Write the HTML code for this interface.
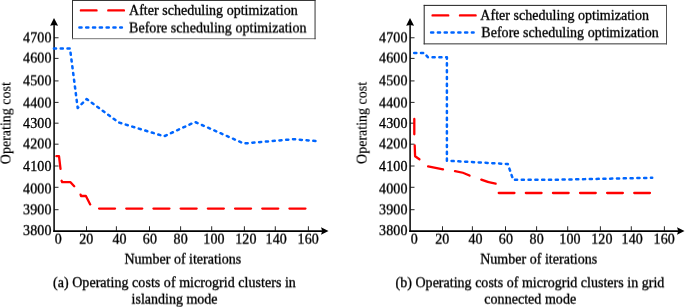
<!DOCTYPE html>
<html>
<head>
<meta charset="utf-8">
<title>Operating costs of microgrid clusters</title>
<style>
html,body{margin:0;padding:0;background:#fff;}
body{width:685px;height:307px;overflow:hidden;font-family:"Liberation Serif",serif;}
svg{display:block;}
svg text{font-family:"Liberation Serif",serif;font-size:14px;fill:#000;stroke:#000;stroke-width:0.32px;}
svg text.tk{letter-spacing:0.15px;}
svg text.vt{stroke-width:0.18px;}
</style>
</head>
<body>
<svg width="685" height="307" viewBox="0 0 685 307">
<defs>
<filter id="soft" x="0" y="0" width="685" height="307" filterUnits="userSpaceOnUse"><feGaussianBlur stdDeviation="0.3"/></filter>
<filter id="h5" x="0" y="0" width="685" height="307" filterUnits="userSpaceOnUse"><feConvolveMatrix order="2 1" kernelMatrix="0.50 0.50" targetX="1" edgeMode="none" preserveAlpha="false"/></filter>
<filter id="h6" x="0" y="0" width="685" height="307" filterUnits="userSpaceOnUse"><feConvolveMatrix order="2 1" kernelMatrix="0.40 0.60" targetX="1" edgeMode="none" preserveAlpha="false"/></filter>
<filter id="v0" x="0" y="0" width="685" height="307" filterUnits="userSpaceOnUse"><feGaussianBlur stdDeviation="0.3"/></filter>
<filter id="v2" x="0" y="0" width="685" height="307" filterUnits="userSpaceOnUse"><feConvolveMatrix order="1 2" kernelMatrix="0.80 0.20" targetY="1" edgeMode="none" preserveAlpha="false"/></filter>
<filter id="v3" x="0" y="0" width="685" height="307" filterUnits="userSpaceOnUse"><feConvolveMatrix order="1 2" kernelMatrix="0.70 0.30" targetY="1" edgeMode="none" preserveAlpha="false"/></filter>
<filter id="v4" x="0" y="0" width="685" height="307" filterUnits="userSpaceOnUse"><feConvolveMatrix order="1 2" kernelMatrix="0.60 0.40" targetY="1" edgeMode="none" preserveAlpha="false"/></filter>
<filter id="v5" x="0" y="0" width="685" height="307" filterUnits="userSpaceOnUse"><feConvolveMatrix order="1 2" kernelMatrix="0.50 0.50" targetY="1" edgeMode="none" preserveAlpha="false"/></filter>
<filter id="v6" x="0" y="0" width="685" height="307" filterUnits="userSpaceOnUse"><feConvolveMatrix order="1 2" kernelMatrix="0.40 0.60" targetY="1" edgeMode="none" preserveAlpha="false"/></filter>
<filter id="v7" x="0" y="0" width="685" height="307" filterUnits="userSpaceOnUse"><feConvolveMatrix order="1 2" kernelMatrix="0.30 0.70" targetY="1" edgeMode="none" preserveAlpha="false"/></filter>
<filter id="v9" x="0" y="0" width="685" height="307" filterUnits="userSpaceOnUse"><feConvolveMatrix order="1 2" kernelMatrix="0.10 0.90" targetY="1" edgeMode="none" preserveAlpha="false"/></filter>
</defs>
<rect x="0" y="0" width="685" height="307" fill="#fff"/>
<g filter="url(#soft)">
<line x1="54.10" y1="24" x2="54.10" y2="231.95" stroke="#0c0c0c" stroke-width="1.6"/>
<line x1="53.30" y1="231.05" x2="322.50" y2="231.05" stroke="#000" stroke-width="1.8"/>
<path d="M54.00,18.1 L58.05,25.7 L54.10,25.0 L50.15,25.7 Z" fill="#000"/>
<path d="M328.50,231.05 L321.00,227.25 L322.20,231.05 L321.00,234.85 Z" fill="#000"/>
<line x1="54.10" y1="37.75" x2="58.50" y2="37.75" stroke="#111" stroke-width="0.9"/>
<line x1="54.10" y1="58.40" x2="58.50" y2="58.40" stroke="#111" stroke-width="0.9"/>
<line x1="54.10" y1="80.90" x2="58.50" y2="80.90" stroke="#111" stroke-width="0.9"/>
<line x1="54.10" y1="102.40" x2="58.50" y2="102.40" stroke="#111" stroke-width="0.9"/>
<line x1="54.10" y1="123.20" x2="58.50" y2="123.20" stroke="#111" stroke-width="0.9"/>
<line x1="54.10" y1="144.20" x2="58.50" y2="144.20" stroke="#111" stroke-width="0.9"/>
<line x1="54.10" y1="166.00" x2="58.50" y2="166.00" stroke="#111" stroke-width="0.9"/>
<line x1="54.10" y1="187.30" x2="58.50" y2="187.30" stroke="#111" stroke-width="0.9"/>
<line x1="54.10" y1="209.70" x2="58.50" y2="209.70" stroke="#111" stroke-width="0.9"/>
<line x1="86.50" y1="231.05" x2="86.50" y2="226.25" stroke="#111" stroke-width="0.9"/>
<line x1="116.40" y1="231.05" x2="116.40" y2="226.25" stroke="#111" stroke-width="0.9"/>
<line x1="149.50" y1="231.05" x2="149.50" y2="226.25" stroke="#111" stroke-width="0.9"/>
<line x1="180.60" y1="231.05" x2="180.60" y2="226.25" stroke="#111" stroke-width="0.9"/>
<line x1="211.70" y1="231.05" x2="211.70" y2="226.25" stroke="#111" stroke-width="0.9"/>
<line x1="244.40" y1="231.05" x2="244.40" y2="226.25" stroke="#111" stroke-width="0.9"/>
<line x1="275.30" y1="231.05" x2="275.30" y2="226.25" stroke="#111" stroke-width="0.9"/>
<line x1="308.40" y1="231.05" x2="308.40" y2="226.25" stroke="#111" stroke-width="0.9"/>
<line x1="410.10" y1="24" x2="410.10" y2="231.95" stroke="#0c0c0c" stroke-width="1.6"/>
<line x1="409.30" y1="231.05" x2="678.50" y2="231.05" stroke="#000" stroke-width="1.8"/>
<path d="M410.00,18.1 L414.05,25.7 L410.10,25.0 L406.15,25.7 Z" fill="#000"/>
<path d="M684.50,231.05 L677.00,227.25 L678.20,231.05 L677.00,234.85 Z" fill="#000"/>
<line x1="410.10" y1="37.75" x2="414.50" y2="37.75" stroke="#111" stroke-width="0.9"/>
<line x1="410.10" y1="58.40" x2="414.50" y2="58.40" stroke="#111" stroke-width="0.9"/>
<line x1="410.10" y1="80.90" x2="414.50" y2="80.90" stroke="#111" stroke-width="0.9"/>
<line x1="410.10" y1="102.40" x2="414.50" y2="102.40" stroke="#111" stroke-width="0.9"/>
<line x1="410.10" y1="123.20" x2="414.50" y2="123.20" stroke="#111" stroke-width="0.9"/>
<line x1="410.10" y1="144.20" x2="414.50" y2="144.20" stroke="#111" stroke-width="0.9"/>
<line x1="410.10" y1="166.00" x2="414.50" y2="166.00" stroke="#111" stroke-width="0.9"/>
<line x1="410.10" y1="187.30" x2="414.50" y2="187.30" stroke="#111" stroke-width="0.9"/>
<line x1="410.10" y1="209.70" x2="414.50" y2="209.70" stroke="#111" stroke-width="0.9"/>
<line x1="442.50" y1="231.05" x2="442.50" y2="226.25" stroke="#111" stroke-width="0.9"/>
<line x1="472.40" y1="231.05" x2="472.40" y2="226.25" stroke="#111" stroke-width="0.9"/>
<line x1="505.50" y1="231.05" x2="505.50" y2="226.25" stroke="#111" stroke-width="0.9"/>
<line x1="536.60" y1="231.05" x2="536.60" y2="226.25" stroke="#111" stroke-width="0.9"/>
<line x1="567.70" y1="231.05" x2="567.70" y2="226.25" stroke="#111" stroke-width="0.9"/>
<line x1="600.40" y1="231.05" x2="600.40" y2="226.25" stroke="#111" stroke-width="0.9"/>
<line x1="631.30" y1="231.05" x2="631.30" y2="226.25" stroke="#111" stroke-width="0.9"/>
<line x1="664.40" y1="231.05" x2="664.40" y2="226.25" stroke="#111" stroke-width="0.9"/>
<rect x="72.50" y="0.40" width="242.55" height="38.30" fill="#fff" stroke="none"/>
<line x1="72.00" y1="0.40" x2="315.55" y2="0.40" stroke="#222" stroke-width="1"/>
<line x1="72.50" y1="-0.10" x2="72.50" y2="39.20" stroke="#333" stroke-width="1"/>
<line x1="72.00" y1="38.70" x2="315.55" y2="38.70" stroke="#777" stroke-width="1"/>
<line x1="315.05" y1="-0.10" x2="315.05" y2="39.20" stroke="#333" stroke-width="1"/>
<path d="M80.90,10.40 H96.50 M108.30,10.40 H123.90" stroke="#ff0000" stroke-width="2.4" stroke-linecap="round" fill="none"/>
<path d="M79.40,27.50 H121.90" stroke="#0566ff" stroke-width="2.5" stroke-linecap="round" stroke-dasharray="2.15 4.65" fill="none"/>
<rect x="424.20" y="5.40" width="242.30" height="38.46" fill="#fff" stroke="none"/>
<line x1="423.70" y1="5.40" x2="667.00" y2="5.40" stroke="#222" stroke-width="1"/>
<line x1="424.20" y1="4.90" x2="424.20" y2="44.36" stroke="#222" stroke-width="1"/>
<line x1="423.70" y1="43.86" x2="667.00" y2="43.86" stroke="#333" stroke-width="1"/>
<line x1="666.50" y1="4.90" x2="666.50" y2="44.36" stroke="#555" stroke-width="1"/>
<path d="M432.60,15.40 H448.20 M460.00,15.40 H475.60" stroke="#ff0000" stroke-width="2.4" stroke-linecap="round" fill="none"/>
<path d="M431.10,32.50 H473.60" stroke="#0566ff" stroke-width="2.5" stroke-linecap="round" stroke-dasharray="2.15 4.65" fill="none"/>
<path d="M53.9,48.4 L70.0,48.4 L77.7,108 L86.7,99 L118.5,122.4 L164.1,136.3 L195.1,122 L243.8,143.5 L293.7,139.2 L316.0,141.1" fill="none" stroke="#0566ff" stroke-width="2.5" stroke-linecap="round" stroke-linejoin="round" stroke-dasharray="2.15 4.65"/>
<path d="M56.4,156.2 L59.0,156.2 L60.5,168.8 M61.6,180.8 L62.2,182.2 L70.5,182.2 L74.2,186.2 M80.6,194.6 L81.0,196.0 L85.9,196.0 L90.2,204.4 M99.05,208.60 H115.05 M126.25,208.60 H142.25 M153.45,208.60 H169.45 M180.65,208.60 H196.65 M207.85,208.60 H223.85 M235.05,208.60 H251.05 M262.25,208.60 H278.25 M289.45,208.60 H305.45 " fill="none" stroke="#ff0000" stroke-width="2.3" stroke-linecap="round" stroke-linejoin="round"/>
<path d="M414.2,52.9 L424.2,52.9 L427.9,57.3 L446.9,57.3 L446.9,160.7 L507.8,164 L513.2,179.8 L556,179.7 L652.2,177.8" fill="none" stroke="#0566ff" stroke-width="2.5" stroke-linecap="round" stroke-linejoin="round" stroke-dasharray="2.15 4.65"/>
<path d="M414.3,119.0 L414.3,134.3 M414.7,145.5 L415.1,156.3 L419.4,159.3 M428.1,166.4 L443,169.3 M455.0,171.2 Q463.5,172.3 469.5,175.6 M481.3,179.6 Q488,182.4 495.6,183.7 M498.75,193.00 H514.45 M525.85,193.00 H541.55 M552.95,193.00 H568.65 M580.05,193.00 H595.75 M607.15,193.00 H622.85 M634.25,193.00 H649.95 " fill="none" stroke="#ff0000" stroke-width="2.3" stroke-linecap="round" stroke-linejoin="round"/>
</g>
<g filter="url(#h5)">
<text class="vt" transform="translate(10,164.15) rotate(-90)">Operating cost</text>
</g>
<g filter="url(#h6)">
<text class="vt" transform="translate(366,163.90) rotate(-90)">Operating cost</text>
</g>
<g filter="url(#v0)">
<text x="51.65" y="128" text-anchor="end" class="tk">4300</text>
<text x="51.65" y="171" text-anchor="end" class="tk">4100</text>
<text x="407.65" y="128" text-anchor="end" class="tk">4300</text>
<text x="407.65" y="171" text-anchor="end" class="tk">4100</text>
</g>
<g filter="url(#v2)">
<text x="51.65" y="235" text-anchor="end" class="tk">3800</text>
<text x="407.65" y="235" text-anchor="end" class="tk">3800</text>
<text x="481.30" y="37" style="letter-spacing:0.034px">Before scheduling optimization</text>
<text x="53.00" y="287" style="letter-spacing:0.042px">(a) Operating costs of microgrid clusters in</text>
</g>
<g filter="url(#v3)">
<text x="395.60" y="287" style="letter-spacing:0.017px">(b) Operating costs of microgrid clusters in grid</text>
</g>
<g filter="url(#v4)">
<text x="51.65" y="42" text-anchor="end" class="tk">4700</text>
<text x="51.65" y="85" text-anchor="end" class="tk">4500</text>
<text x="51.65" y="214" text-anchor="end" class="tk">3900</text>
<text x="407.65" y="42" text-anchor="end" class="tk">4700</text>
<text x="407.65" y="85" text-anchor="end" class="tk">4500</text>
<text x="407.65" y="214" text-anchor="end" class="tk">3900</text>
</g>
<g filter="url(#v5)">
<text x="51.65" y="148" text-anchor="end" class="tk">4200</text>
<text x="51.65" y="193" text-anchor="end" class="tk">4000</text>
<text x="407.65" y="148" text-anchor="end" class="tk">4200</text>
<text x="407.65" y="193" text-anchor="end" class="tk">4000</text>
<text x="129.05" y="32" style="letter-spacing:0.034px">Before scheduling optimization</text>
</g>
<g filter="url(#v6)">
<text x="51.65" y="62" text-anchor="end" class="tk">4600</text>
<text x="51.65" y="107" text-anchor="end" class="tk">4400</text>
<text x="407.65" y="62" text-anchor="end" class="tk">4600</text>
<text x="407.65" y="107" text-anchor="end" class="tk">4400</text>
</g>
<g filter="url(#v7)">
<text x="58.30" y="243" text-anchor="middle" class="tk">0</text>
<text x="86.35" y="243" text-anchor="middle" class="tk">20</text>
<text x="119.60" y="243" text-anchor="middle" class="tk">40</text>
<text x="149.90" y="243" text-anchor="middle" class="tk">60</text>
<text x="180.70" y="243" text-anchor="middle" class="tk">80</text>
<text x="214.00" y="243" text-anchor="middle" class="tk">100</text>
<text x="245.90" y="243" text-anchor="middle" class="tk">120</text>
<text x="276.30" y="243" text-anchor="middle" class="tk">140</text>
<text x="308.30" y="243" text-anchor="middle" class="tk">160</text>
<text x="414.30" y="243" text-anchor="middle" class="tk">0</text>
<text x="442.35" y="243" text-anchor="middle" class="tk">20</text>
<text x="475.60" y="243" text-anchor="middle" class="tk">40</text>
<text x="505.90" y="243" text-anchor="middle" class="tk">60</text>
<text x="536.70" y="243" text-anchor="middle" class="tk">80</text>
<text x="570.00" y="243" text-anchor="middle" class="tk">100</text>
<text x="601.90" y="243" text-anchor="middle" class="tk">120</text>
<text x="632.30" y="243" text-anchor="middle" class="tk">140</text>
<text x="664.30" y="243" text-anchor="middle" class="tk">160</text>
<text x="124.50" y="263">Number of iterations</text>
<text x="131.60" y="303">islanding mode</text>
<text x="480.20" y="263" style="letter-spacing:0.02px">Number of iterations</text>
<text x="484.30" y="303" style="letter-spacing:0.04px">connected mode</text>
</g>
<g filter="url(#v9)">
<text x="129.00" y="14" style="letter-spacing:0.026px">After scheduling optimization</text>
<text x="480.35" y="19" style="letter-spacing:0.026px">After scheduling optimization</text>
</g>
</svg>
</body>
</html>
